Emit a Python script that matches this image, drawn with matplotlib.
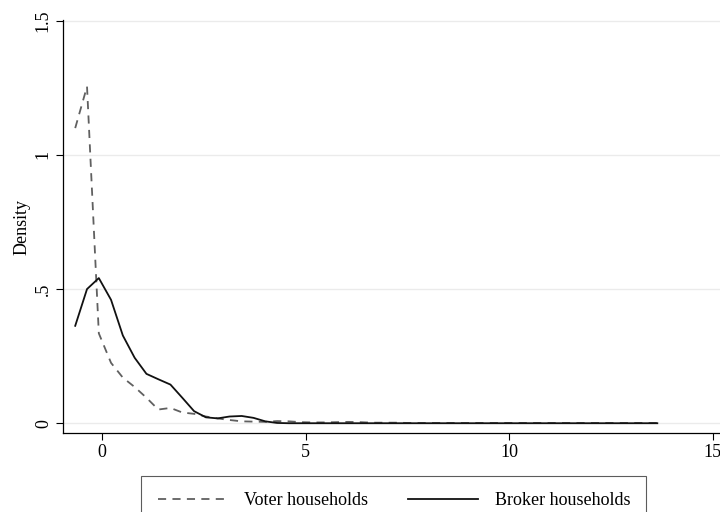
import matplotlib
matplotlib.use("Agg")
import matplotlib.pyplot as plt

plt.rcParams['font.family'] = ['Liberation Serif', 'DejaVu Serif']

# kernel density grid (50 points)
x_grid = [-0.66, -0.37, -0.08, 0.22, 0.51, 0.80, 1.09, 1.38, 1.68, 1.97,
          2.26, 2.55, 2.84, 3.13, 3.43, 3.72, 4.01, 4.30, 4.59, 4.88,
          5.17, 5.47, 5.76, 6.05, 6.34, 6.63, 6.92, 7.21, 7.51, 7.80,
          8.09, 8.38, 8.67, 8.96, 9.25, 9.55, 9.84, 10.13, 10.42, 10.71,
          11.00, 11.29, 11.59, 11.88, 12.17, 12.46, 12.75, 13.04, 13.33, 13.64]

voter = [1.10, 1.255, 0.335, 0.225, 0.17, 0.135, 0.095, 0.051, 0.057, 0.040,
         0.035, 0.025, 0.018, 0.012, 0.007, 0.006, 0.005, 0.008, 0.007, 0.004,
         0.003, 0.003, 0.004, 0.005, 0.004, 0.002, 0.002, 0.002, 0.001, 0.001,
         0.001, 0.001, 0.001, 0.001, 0.001, 0.001, 0.001, 0.001, 0.001, 0.001,
         0.001, 0.001, 0.001, 0.001, 0.001, 0.001, 0.001, 0.001, 0.001, 0.001]

broker = [0.363, 0.50, 0.541, 0.46, 0.327, 0.244, 0.184, 0.164, 0.144, 0.095,
          0.045, 0.022, 0.018, 0.025, 0.027, 0.020, 0.007, 0.001, 0.0, 0.0,
          0.0, 0.0, 0.0, 0.0, 0.0, 0.0, 0.0, 0.0, 0.0, 0.0,
          0.0, 0.0, 0.0, 0.0, 0.0, 0.0, 0.0, 0.0, 0.0, 0.0,
          0.0, 0.0, 0.0, 0.0, 0.0, 0.0, 0.0, 0.0, 0.0, 0.0]

y_ticks = [0, 0.5, 1, 1.5]
y_labels = ['0', '.5', '1', '1.5']
x_ticks = [0, 5, 10, 15]

fig = plt.figure(figsize=(7.2, 5.12), dpi=100)
ax = fig.add_axes([0.0875, 0.154, 0.9125, 0.807])

for y in y_ticks:
    ax.axhline(y, color='#ebebeb', lw=1.0, zorder=0)

ax.plot(x_grid, voter, color='#606060', lw=1.3, dashes=(4.5, 3.5), label='Voter households')
ax.plot(x_grid, broker, color='#111111', lw=1.3, label='Broker households')

ax.set_xlim(-0.96, 15.18)
ax.set_ylim(-0.037, 1.503)
ax.set_xticks(x_ticks)
ax.set_yticks(y_ticks)
ax.set_yticklabels(y_labels, rotation=90, va='center')
ax.tick_params(labelsize=13, length=5, width=0.8, color='black', pad=3)
ax.set_ylabel('Density', fontsize=13, labelpad=3)

for s in ['top', 'right']:
    ax.spines[s].set_visible(False)
for s in ['left', 'bottom']:
    ax.spines[s].set_linewidth(0.9)

leg = fig.legend(loc='upper center', bbox_to_anchor=(0.547, 0.0703), ncol=2,
                 fontsize=13, handlelength=3.9, handletextpad=0.9,
                 columnspacing=2.2, borderaxespad=0, fancybox=False,
                 edgecolor='#333333', borderpad=0.9)
leg.get_frame().set_linewidth(0.8)

plt.savefig('out.png', dpi=100)
